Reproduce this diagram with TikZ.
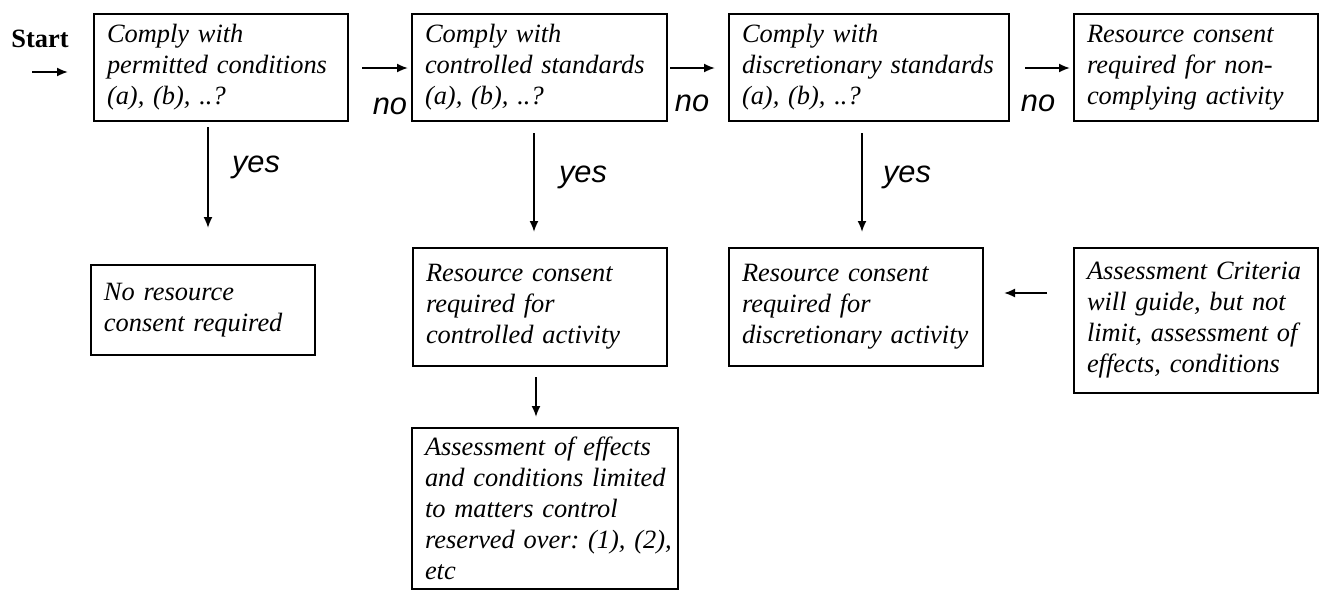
\documentclass[tikz,border=0pt]{standalone}
\usepackage{fontspec}
\setmainfont{Liberation Serif}
\newfontfamily\sansfont{Liberation Sans}
\usetikzlibrary{arrows.meta}
\newcommand{\boxfont}{\fontsize{13.2}{15.5}\selectfont\itshape\frenchspacing}
\newcommand{\ynfont}{\sansfont\fontsize{15.4}{18}\selectfont\itshape}
\begin{document}
\begin{tikzpicture}[x=0.5pt,y=-0.5pt,
  box/.style={draw,line width=0.9pt,align=left,inner xsep=6.5pt,inner ysep=0pt,font=\boxfont},
  arr/.style={-{Latex[length=5.5pt,width=4.5pt]},line width=0.9pt},
  yn/.style={font=\ynfont,inner sep=0pt}]
\pgfmathsetmacro{\top}{67.5}
\useasboundingbox (0,0) rectangle (1319,590);
%
\node[font=\fontsize{13.2}{15.5}\selectfont\bfseries] (start) at (40,39) {Start};
\coordinate (s0) at (32,72);
\coordinate (s1) at (68,72);
\draw[arr](s0)--(s1);
%
\node[box,text width=114pt,minimum height=53.5pt] (permit) at (221,\top)
  {Comply with\\permitted conditions\\(a), (b), ..?};
\node[box,text width=114.5pt,minimum height=53.5pt] (contr) at (539.5,\top)
  {Comply with\\controlled standards\\(a), (b), ..?};
\node[box,text width=127pt,minimum height=53.5pt] (discr) at (869,\top)
  {Comply with\\discretionary standards\\(a), (b), ..?};
\node[box,text width=109pt,minimum height=53.5pt] (noncomp) at (1196,\top)
  {Resource consent\\required for non-\\complying activity};
%
\coordinate (n1a) at (362,68);
\coordinate (n1b) at (408,68);
\draw[arr](n1a)--(n1b);
\node[yn] (no1) at (390,106) {no};
\coordinate (n2a) at (670,68);
\coordinate (n2b) at (715,68);
\draw[arr](n2a)--(n2b);
\node[yn] (no2) at (692,103) {no};
\coordinate (n3a) at (1025,68);
\coordinate (n3b) at (1070,68);
\draw[arr](n3a)--(n3b);
\node[yn] (no3) at (1038,103) {no};
%
\node[box,text width=99pt,minimum height=45pt] (none) at (203,310)
  {No resource\\consent required};
\node[box,text width=114pt,minimum height=59pt] (ctlact) at (540,307)
  {Resource consent\\required for\\controlled activity};
\node[box,text width=120pt,minimum height=80.5pt] (ctleff) at (545,508.5)
  {\mbox{Assessment of effects}\\\mbox{and conditions limited}\\\mbox{to matters control}\\\mbox{reserved over: (1), (2),}\\etc};
\node[box,text width=114pt,minimum height=59pt] (disact) at (856,307)
  {Resource consent\\required for\\\mbox{discretionary activity}};
\node[box,text width=109pt,minimum height=72.5pt] (crit) at (1196,320.5)
  {\mbox{Assessment Criteria}\\will guide, but not\\\mbox{limit, assessment of}\\effects, conditions};
%
\coordinate (y1a) at (208,127);
\coordinate (y1b) at (208,228);
\draw[arr](y1a)--(y1b);
\node[yn] (yes1) at (256,167) {yes};
\coordinate (y2a) at (534,133);
\coordinate (y2b) at (534,232);
\draw[arr](y2a)--(y2b);
\node[yn] (yes2) at (583,177) {yes};
\coordinate (y3a) at (862,133);
\coordinate (y3b) at (862,232);
\draw[arr](y3a)--(y3b);
\node[yn] (yes3) at (907,177) {yes};
%
\coordinate (e0) at (536,377);
\coordinate (e1) at (536,417);
\draw[arr](e0)--(e1);
\coordinate (c0) at (1047,293);
\coordinate (c1) at (1004,293);
\draw[arr](c0)--(c1);
\end{tikzpicture}
\end{document}
